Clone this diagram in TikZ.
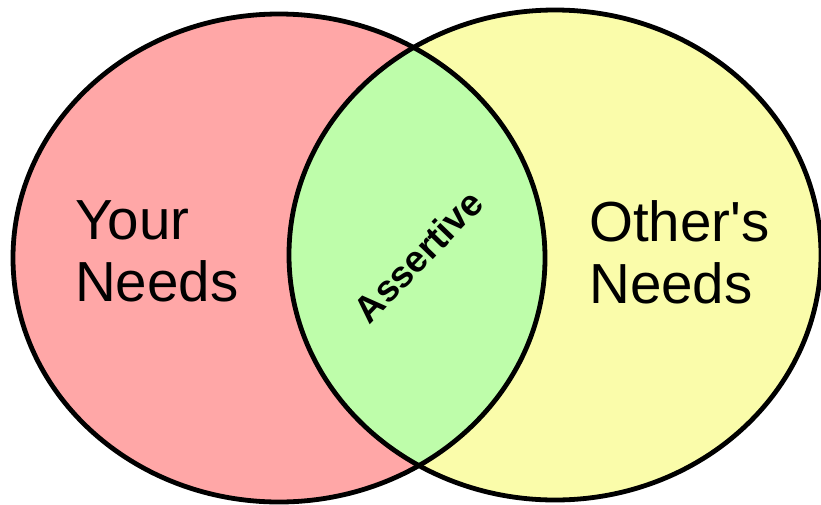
\documentclass[tikz,border=0pt]{standalone}
\usepackage{fontspec}
\setmainfont{Liberation Sans}[Ligatures=TeXOff]
\usepackage{xcolor}
\usepackage{tikz}
\usetikzlibrary{positioning}

\definecolor{yourfill}{RGB}{255,167,167}
\definecolor{otherfill}{RGB}{250,252,170}
\definecolor{bothfill}{RGB}{190,253,170}

\begin{document}
\begin{tikzpicture}[
    x=1pt, y=-1pt,
    setline/.style={line width=4.8pt},
    needlabel/.style={
        anchor=north west,
        inner sep=0pt,
        align=left,
        font=\fontsize{56.5}{62}\selectfont
    },
    midlabel/.style={
        inner sep=0pt,
        rotate=46,
        font=\fontsize{37}{40}\selectfont\bfseries
    }
]

\useasboundingbox (0,0) rectangle (821,504);
\clip (0,0) rectangle (821,504);

\coordinate (yourset) at (279,258);
\coordinate (otherset) at (555,255);

\fill[yourfill] (yourset) ellipse [x radius=266pt, y radius=244pt];
\fill[otherfill] (otherset) ellipse [x radius=266pt, y radius=245pt];
\begin{scope}
    \clip (yourset) ellipse [x radius=266pt, y radius=244pt];
    \fill[bothfill] (otherset) ellipse [x radius=266pt, y radius=245pt];
\end{scope}
\draw[setline] (yourset) ellipse [x radius=266pt, y radius=244pt];
\draw[setline] (otherset) ellipse [x radius=266pt, y radius=245pt];

\node[needlabel] (yours) at (75,200) {Your\\Needs};
\node[needlabel] (others) at (589,200) {Other's\\Needs};
\node[midlabel] (assertive) at (418,256) {Assertive};

\end{tikzpicture}
\end{document}
